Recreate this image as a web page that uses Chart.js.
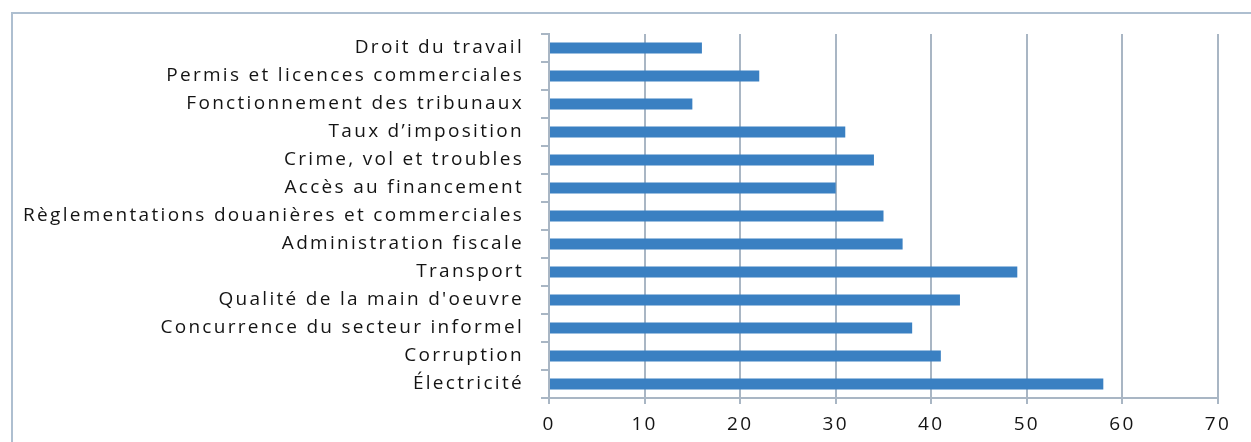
<!DOCTYPE html>
<html>
<head>
<meta charset="utf-8">
<script src="https://cdn.jsdelivr.net/npm/chart.js@4"></script>
<style>
  html, body { margin: 0; padding: 0; background: #fff; }
  #wrap { width: 1251px; height: 442px; }
</style>
</head>
<body>
<div id="wrap"><canvas id="chart"></canvas></div>
<script>
// Chart data
const categories = [
  'Droit du travail',
  'Permis et licences commerciales',
  'Fonctionnement des tribunaux',
  'Taux d\u2019imposition',
  'Crime, vol et troubles',
  'Accès au financement',
  'Règlementations douanières et commerciales',
  'Administration fiscale',
  'Transport',
  'Qualité de la main d\'oeuvre',
  'Concurrence du secteur informel',
  'Corruption',
  'Électricité'
];
const values = [16, 22, 15, 31, 34, 30, 35, 37, 49, 43, 38, 41, 58];
const xTicks = [0, 10, 20, 30, 40, 50, 60, 70];

const gridColor = '#a9b6c4';
const barColor = '#3a80c2';

// letter spacing has to be set again after every canvas resize
const spacing = {
  id: 'spacing',
  beforeLayout(chart) { chart.ctx.letterSpacing = '2.3px'; },
  beforeDraw(chart) { chart.ctx.letterSpacing = '2.3px'; }
};

// light frame round the chart, top and left edges only are visible
const frame = {
  id: 'frame',
  beforeDraw(chart) {
    const ctx = chart.ctx;
    ctx.save();
    ctx.strokeStyle = '#aebfd0';
    ctx.lineWidth = 2;
    ctx.beginPath();
    ctx.moveTo(12, 460);
    ctx.lineTo(12, 13);
    ctx.lineTo(1270, 13);
    ctx.stroke();
    ctx.restore();
  }
};

const font = { family: '"Open Sans", sans-serif', size: 19 };

new Chart(document.getElementById('chart'), {
  type: 'bar',
  data: {
    labels: categories,
    datasets: [{
      data: values,
      backgroundColor: barColor,
      borderWidth: 0,
      categoryPercentage: 1,
      barPercentage: 0.4
    }]
  },
  options: {
    indexAxis: 'y',
    responsive: true,
    maintainAspectRatio: false,
    animation: false,
    layout: { padding: { top: 34, right: 33, left: 0, bottom: 0 } },
    plugins: {
      legend: { display: false },
      tooltip: { enabled: false }
    },
    scales: {
      x: {
        min: 0,
        max: 70,
        afterBuildTicks: (scale) => { scale.ticks = xTicks.map(v => ({ value: v })); },
        afterFit: (scale) => { scale.height = 44; },
        grid: { color: gridColor, lineWidth: 2, tickLength: 6, drawTicks: true },
        border: { color: gridColor, width: 2 },
        ticks: { color: '#141414', font, padding: 9, maxRotation: 0 }
      },
      y: {
        afterFit: (scale) => { scale.width = 549; },
        grid: { display: true, drawOnChartArea: false, drawTicks: true, tickLength: 8, color: gridColor, lineWidth: 2 },
        border: { color: gridColor, width: 2 },
        ticks: { color: '#141414', font, padding: 17, autoSkip: false }
      }
    }
  },
  plugins: [spacing, frame]
});
</script>
</body>
</html>
